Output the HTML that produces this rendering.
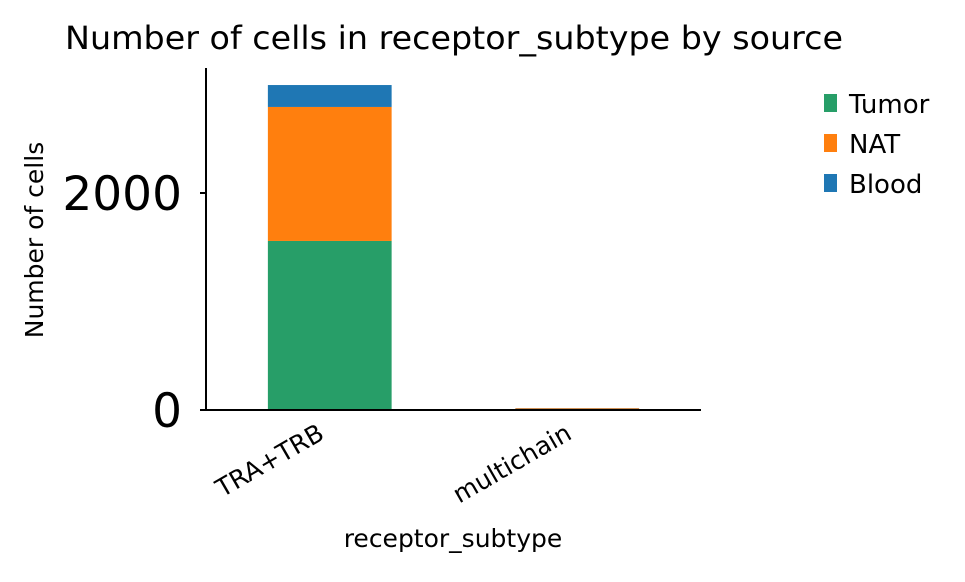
<!DOCTYPE html>
<html><head><meta charset="utf-8"><style>
body{margin:0;background:#fff;}
svg text{font-family:"DejaVu Sans","Liberation Sans",sans-serif;}
</style></head><body>
<svg width="965" height="577" xmlns="http://www.w3.org/2000/svg">
<text x="454" y="49" font-size="32" text-anchor="middle" textLength="778" lengthAdjust="spacingAndGlyphs">Number of cells in receptor_subtype by source</text>
<g id="bars"></g>
<g id="axes"></g>
<text x="43" y="240" font-size="25" text-anchor="middle" transform="rotate(-90 43 240)">Number of cells</text>
<text x="453" y="547" font-size="25" text-anchor="middle">receptor_subtype</text>
<g id="legend"></g>
</svg>
<script>
const categories = ["TRA+TRB", "multichain"];
const seriesNames = ["Tumor", "NAT", "Blood"];
const seriesColors = ["#279e68", "#ff7f0e", "#1f77b4"];
const tumor = [1558, 6];
const nat = [1235, 10];
const blood = [202, 2];
const yTicks = [0, 2000];
const series = [tumor, nat, blood];
const ns = "http://www.w3.org/2000/svg";
const X0 = 206, X1 = 701, Y0 = 410, YTOP = 68, YMAX = 3152;
const yS = v => Y0 - v / YMAX * (Y0 - YTOP);
const step = (X1 - X0) / categories.length;
const xC = i => X0 + step * (i + 0.5);
const bw = step * 0.5;
function mk(tag, attrs, parent) { const e = document.createElementNS(ns, tag); for (const k in attrs) e.setAttribute(k, attrs[k]); parent.appendChild(e); return e; }
const bars = document.getElementById("bars");
categories.forEach((c, i) => {
  let base = 0;
  series.forEach((s, j) => {
    const r = mk("rect", { x: xC(i) - bw / 2, y: yS(base + s[i]), width: bw, height: yS(base) - yS(base + s[i]), fill: seriesColors[j] }, bars);
    
    
    base += s[i];
  });
});
const axes = document.getElementById("axes");
mk("line", { x1: X0, y1: YTOP, x2: X0, y2: Y0, stroke: "#000", "stroke-width": 2 }, axes);
mk("line", { x1: X0 - 1, y1: Y0, x2: X1, y2: Y0, stroke: "#000", "stroke-width": 2 }, axes);
yTicks.forEach(t => {
  mk("line", { x1: X0 - 6, y1: yS(t), x2: X0, y2: yS(t), stroke: "#000", "stroke-width": 2 }, axes);
  const tx = mk("text", { x: 182, y: yS(t) + 17, "font-size": 47, "text-anchor": "end" }, axes);
  tx.textContent = t;
  
  
});
categories.forEach((c, i) => {
  const ax = xC(i) - 4, ay = Y0 + 28;
  const tx = mk("text", { x: ax, y: ay, "font-size": 25, "text-anchor": "end", transform: `rotate(-30 ${ax} ${ay})` }, axes);
  tx.textContent = c;
  
  
});
const leg = document.getElementById("legend");
seriesNames.forEach((n, j) => {
  const y = 104 + j * 40;
  const r = mk("rect", { x: 824, y: y - 10, width: 13, height: 18, fill: seriesColors[j] }, leg);
  
  
  const t = mk("text", { x: 849, y: y + 9, "font-size": 26 }, leg);
  t.textContent = n;
  
  
});
</script>
</body></html>
